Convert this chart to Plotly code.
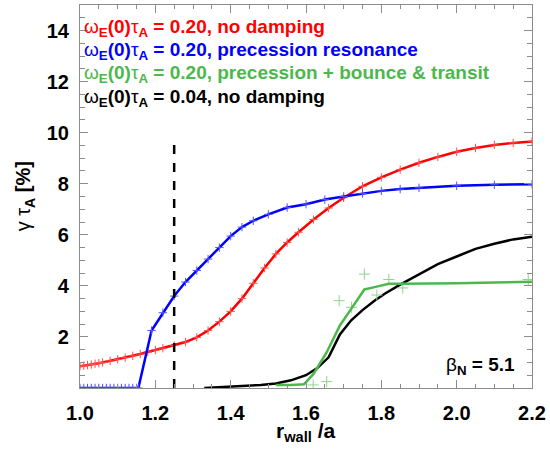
import plotly.graph_objects as go

# ---- data ----
red_x = [1.00, 1.01, 1.02, 1.03, 1.04, 1.05, 1.06, 1.08, 1.10, 1.12, 1.14, 1.16, 1.18, 1.20, 1.22, 1.25,
         1.28, 1.31, 1.34, 1.37, 1.40, 1.43, 1.46, 1.49, 1.52, 1.55, 1.58, 1.62, 1.66, 1.70,
         1.75, 1.80, 1.85, 1.90, 1.95, 2.00, 2.05, 2.10, 2.15, 2.20]
red_y = [0.85, 0.87, 0.90, 0.92, 0.95, 0.97, 1.00, 1.06, 1.12, 1.19, 1.26, 1.33, 1.41, 1.49, 1.56, 1.66,
         1.80, 1.98, 2.25, 2.60, 3.00, 3.50, 4.10, 4.70, 5.25, 5.70, 6.10, 6.60, 7.05, 7.45,
         7.90, 8.25, 8.55, 8.82, 9.05, 9.25, 9.40, 9.52, 9.60, 9.65]

blue_x = [1.00, 1.01, 1.02, 1.03, 1.04, 1.05, 1.06, 1.07, 1.08, 1.09, 1.10, 1.11, 1.12, 1.13, 1.14, 1.15,
          1.155, 1.19, 1.22, 1.25, 1.28, 1.31, 1.34, 1.37, 1.40, 1.43, 1.46, 1.50, 1.55, 1.60,
          1.65, 1.70, 1.75, 1.80, 1.85, 1.90, 2.00, 2.10, 2.20]
blue_y = [0, 0, 0, 0, 0, 0, 0, 0, 0, 0, 0, 0, 0, 0, 0, 0,
          0, 2.25, 2.95, 3.60, 4.15, 4.60, 5.05, 5.50, 5.95, 6.30, 6.55, 6.80, 7.07, 7.20,
          7.38, 7.50, 7.62, 7.72, 7.79, 7.84, 7.92, 7.96, 7.98]

black_x = [1.33, 1.36, 1.40, 1.44, 1.48, 1.52, 1.56, 1.60, 1.63, 1.66, 1.69, 1.72, 1.75, 1.78,
           1.81, 1.85, 1.90, 1.95, 2.00, 2.05, 2.10, 2.15, 2.20]
black_y = [0.0, 0.02, 0.05, 0.08, 0.12, 0.18, 0.30, 0.50, 0.78, 1.20, 2.10, 2.65, 3.05, 3.40,
           3.70, 4.05, 4.45, 4.85, 5.15, 5.45, 5.65, 5.82, 5.92]

green_x = [1.52, 1.56, 1.595, 1.62, 1.655, 1.69, 1.72, 1.755, 1.785, 1.82, 1.86, 1.92, 2.00, 2.10, 2.20]
green_y = [0.12, 0.12, 0.15, 0.55, 1.40, 2.45, 3.10, 3.86, 3.96, 4.08, 4.08, 4.08, 4.10, 4.13, 4.16]

green_pts_x = [1.619, 1.655, 1.688, 1.721, 1.755, 1.788, 1.820, 1.857, 2.190]
green_pts_y = [0.12, 0.25, 3.42, 3.16, 4.46, 3.64, 4.25, 3.92, 4.25]

wall_x = [1.25, 1.25]
wall_y = [0.0, 9.75]

legend_texts = [
    "ω<b><sub>E</sub>(0)</b>τ<b><sub>A</sub> = 0.20, no damping</b>",
    "ω<b><sub>E</sub>(0)</b>τ<b><sub>A</sub> = 0.20, precession resonance</b>",
    "ω<b><sub>E</sub>(0)</b>τ<b><sub>A</sub> = 0.20, precession + bounce &amp; transit</b>",
    "ω<b><sub>E</sub>(0)</b>τ<b><sub>A</sub> = 0.04, no damping</b>",
]
legend_colors = ["#ff0000", "#0000ff", "#4cb84c", "#000000"]

x_ticks = [1.0, 1.2, 1.4, 1.6, 1.8, 2.0, 2.2]
y_ticks = [2, 4, 6, 8, 10, 12, 14]

FONT = "Liberation Sans, Arial, sans-serif"
RED, BLUE, GREEN, BLACK = "#ff0000", "#0000ff", "#4cb84c", "#000000"

fig = go.Figure()

fig.add_trace(go.Scatter(x=red_x, y=red_y, mode="lines+markers",
                         line=dict(color=RED, width=2.5),
                         marker=dict(symbol="cross-thin", size=6, color=RED,
                                     line=dict(width=1, color="#ff5050"))))
fig.add_trace(go.Scatter(x=blue_x, y=blue_y, mode="lines+markers",
                         line=dict(color=BLUE, width=2.5),
                         marker=dict(symbol="cross-thin", size=6, color=BLUE,
                                     line=dict(width=1, color="#5050ff"))))
fig.add_trace(go.Scatter(x=black_x, y=black_y, mode="lines",
                         line=dict(color=BLACK, width=2.5)))
fig.add_trace(go.Scatter(x=green_pts_x, y=green_pts_y, mode="markers",
                         marker=dict(symbol="cross-thin", size=8, color="#8fd48f",
                                     line=dict(width=1, color="#8fd48f"))))
fig.add_trace(go.Scatter(x=green_x, y=green_y, mode="lines",
                         line=dict(color=GREEN, width=2.5)))
fig.add_trace(go.Scatter(x=wall_x, y=wall_y, mode="lines",
                         line=dict(color=BLACK, width=2.5, dash="dash")))

annotations = []
row_y = [0.940, 0.880, 0.820, 0.758]
for txt, col, yy in zip(legend_texts, legend_colors, row_y):
    annotations.append(dict(text=txt, x=0.004, y=yy, xref="paper", yref="paper",
                            xanchor="left", yanchor="middle", showarrow=False,
                            font=dict(family=FONT, size=19, color=col)))
annotations.append(dict(text="β<b><sub>N</sub> = 5.1</b>", x=0.967, y=0.057,
                        xref="paper", yref="paper", xanchor="right", yanchor="middle",
                        showarrow=False, font=dict(family=FONT, size=19, color="#000000")))
annotations.append(dict(text="γ τ<b><sub>A</sub> [%]</b>", x=-0.122, y=0.5,
                        xref="paper", yref="paper", xanchor="center", yanchor="middle",
                        textangle=-90, showarrow=False,
                        font=dict(family=FONT, size=20, color="#000000")))
annotations.append(dict(text="<b>r<sub>wall</sub> /a</b>", x=0.5, y=-0.115,
                        xref="paper", yref="paper", xanchor="center", yanchor="middle",
                        showarrow=False, font=dict(family=FONT, size=21, color="#000000")))

axis_common = dict(showline=True, linecolor="#8c8c8c", linewidth=1.2, mirror="ticks",
                   ticks="inside", tickcolor="#8c8c8c", ticklen=8, tickwidth=1,
                   showgrid=False, zeroline=False,
                   tickfont=dict(family=FONT, size=20, color="#000000"))

fig.update_layout(
    width=550, height=452,
    margin=dict(l=80, r=18, t=5, b=64),
    paper_bgcolor="white", plot_bgcolor="white",
    showlegend=False,
    annotations=annotations,
    xaxis=dict(range=[1.0, 2.2], tickvals=x_ticks, ticktext=["<b>%.1f</b>" % v for v in x_ticks],
               minor=dict(dtick=0.05, ticks="inside", ticklen=4, tickcolor="#8c8c8c"),
               ticklabelstandoff=7, **axis_common),
    yaxis=dict(range=[0, 15], tickvals=y_ticks, ticktext=["<b>%d</b>" % v for v in y_ticks],
               minor=dict(dtick=0.5, ticks="inside", ticklen=5, tickcolor="#8c8c8c"),
               ticklabelstandoff=6, **axis_common),
)

fig.write_html("out.html")
